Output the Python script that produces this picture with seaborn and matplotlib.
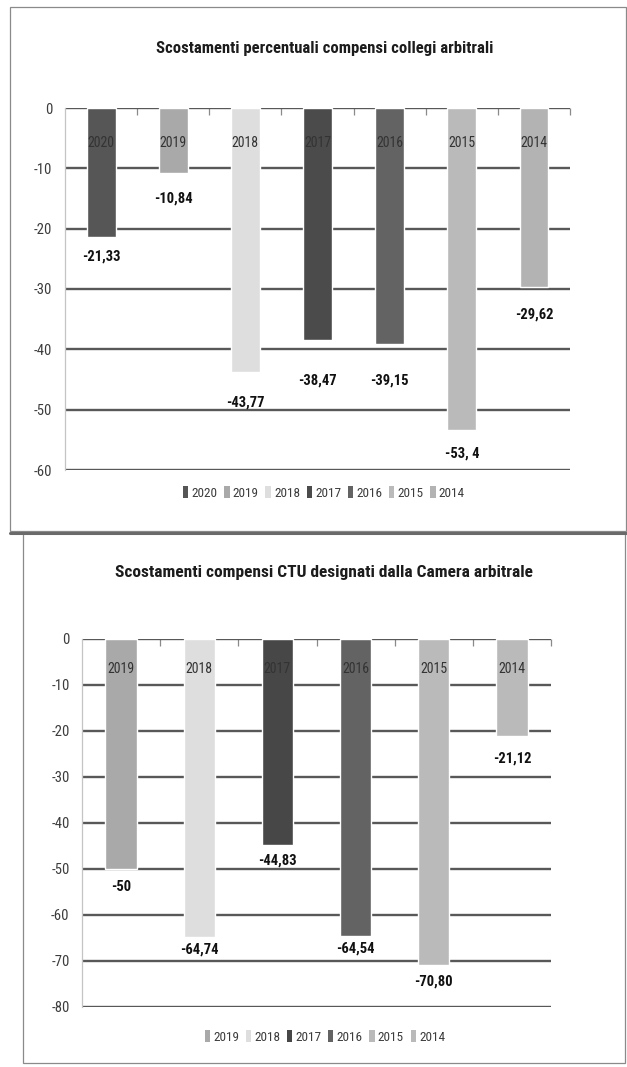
import matplotlib
matplotlib.use("Agg")
import matplotlib.pyplot as plt
from matplotlib import font_manager
from matplotlib.patches import Rectangle, Patch
import seaborn as sns
import pandas as pd

# ---- data -------------------------------------------------------------
years_top = ["2020", "2019", "2018", "2017", "2016", "2015", "2014"]
values_top = [-21.33, -10.84, -43.77, -38.47, -39.15, -53.4, -29.62]
labels_top = ["-21,33", "-10,84", "-43,77", "-38,47", "-39,15", "-53, 4", "-29,62"]
colors_top = ["#565656", "#a9a9a9", "#dedede", "#4b4b4b", "#636363", "#bababa", "#b3b3b3"]

years_bot = ["2019", "2018", "2017", "2016", "2015", "2014"]
values_bot = [-50, -64.74, -44.83, -64.54, -70.80, -21.12]
labels_bot = ["-50", "-64,74", "-44,83", "-64,54", "-70,80", "-21,12"]
colors_bot = ["#a9a9a9", "#dedede", "#474747", "#636363", "#bababa", "#bababa"]

title_top = "Scostamenti percentuali compensi collegi arbitrali"
title_bot = "Scostamenti compensi CTU designati dalla Camera arbitrale"

# ---- fonts ------------------------------------------------------------
available = {f.name for f in font_manager.fontManager.ttflist}
narrow = next((f for f in ["Roboto Condensed", "Liberation Sans Narrow",
                           "Open Sans Condensed", "DejaVu Sans"] if f in available),
              "DejaVu Sans")

sns.set_theme(style="white")
plt.rcParams["font.family"] = [narrow, "DejaVu Sans"]
plt.rcParams["axes.unicode_minus"] = False

W, H = 627, 1067
fig = plt.figure(figsize=(W / 100, H / 100), dpi=100)
fig.patch.set_facecolor("white")


def px_axes(left, top, right, bottom):
    return fig.add_axes([left / W, 1 - bottom / H, (right - left) / W, (bottom - top) / H])


def frame(left, top, right, bottom, shadow=False):
    r = Rectangle((left / W, 1 - bottom / H), (right - left) / W, (bottom - top) / H,
                  transform=fig.transFigure, fill=False, ec="#8a8a8a", lw=0.9, zorder=0)
    fig.add_artist(r)
    if shadow:
        fig.add_artist(plt.Line2D([left / W, right / W], [1 - (bottom + 1.5) / H] * 2,
                                  transform=fig.transFigure, color="#6a6a6a", lw=2.2))


def draw_panel(ax, years, values, labels, colors, ymin, year_y, label_off_px, px_per_unit):
    df = pd.DataFrame({"anno": years, "valore": values})
    sns.barplot(data=df, x="anno", y="valore", hue="anno", palette=colors,
                order=years, hue_order=years, dodge=False, legend=False,
                width=0.4, ax=ax, saturation=1, zorder=3)
    ax.set_xlim(-0.5, len(years) - 0.5)
    ax.set_ylim(ymin, 0)
    ax.set_yticks(range(ymin, 1, 10))
    ax.yaxis.grid(True, color="#585858", lw=1.7, zorder=0)
    ax.set_axisbelow(True)
    ax.set_xlabel("")
    ax.set_ylabel("")
    for s in ["top", "right", "bottom"]:
        ax.spines[s].set_visible(False)
    ax.spines["left"].set_color("#c4c4c4")
    ax.spines["left"].set_linewidth(0.9)
    ax.tick_params(axis="y", length=0, pad=9, labelsize=10.5, labelcolor="#3c3c3c")
    ax.xaxis.tick_top()
    ax.set_xticks([])
    ax.set_xticks([i + 0.5 for i in range(len(years))], minor=True)
    ax.tick_params(axis="x", which="minor", direction="in", length=5, width=0.9,
                   color="#8a8a8a", top=True, bottom=False)
    for i, (yr, v, lab) in enumerate(zip(years, values, labels)):
        ax.text(i, year_y, yr, ha="center", va="center", fontsize=10,
                color="#333333", zorder=5)
        ax.text(i, v - label_off_px[i] / px_per_unit, lab, ha="center", va="center",
                fontsize=10.5, fontweight="bold", color="#111111", zorder=5)
    handles = [Patch(facecolor=c, edgecolor="none", label=y) for y, c in zip(years, colors)]
    return handles


legend_style = dict(loc="center", frameon=False, fontsize=9.5, labelcolor="#3c3c3c",
                    handlelength=0.4, handleheight=1.0, handletextpad=0.25,
                    columnspacing=0.5)

# ---- top panel --------------------------------------------------------
frame(10, 7, 626, 531, shadow=True)
fig.text(325 / W, 1 - 48 / H, title_top, ha="center", va="center",
         fontsize=12, fontweight="bold", color="#1c1c1c")
ax1 = px_axes(65, 108, 570, 470)
h1 = draw_panel(ax1, years_top, values_top, labels_top, colors_top, -60, -5.8,
                [20, 25, 30, 40, 36, 23, 28], 362 / 60)
ax1.legend(handles=h1, bbox_to_anchor=(0.513, -23 / 362), ncol=7, **legend_style)

# ---- bottom panel -----------------------------------------------------
frame(23, 532, 625, 1063)
fig.text(324 / W, 1 - 572 / H, title_bot, ha="center", va="center",
         fontsize=12.5, fontweight="bold", color="#1c1c1c")
ax2 = px_axes(82, 639, 551, 1007)
h2 = draw_panel(ax2, years_bot, values_bot, labels_bot, colors_bot, -80, -6.5,
                [18, 13, 15, 13, 17, 22], 368 / 80)
ax2.legend(handles=h2, bbox_to_anchor=(0.518, -30 / 368), ncol=6, **legend_style)

fig.savefig("out.png", dpi=100, facecolor="white")
